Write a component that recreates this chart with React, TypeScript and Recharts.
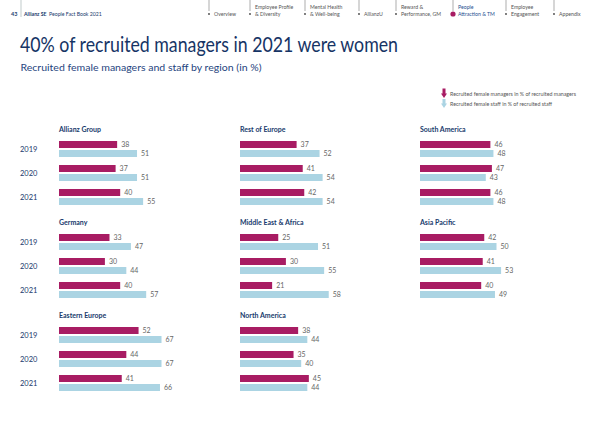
import { Bar, BarChart, LabelList, XAxis, YAxis } from "recharts";

const YEARS = ["2019", "2020", "2021"];

const REGIONS = [
  "Allianz Group",
  "Rest of Europe",
  "South America",
  "Germany",
  "Middle East & Africa",
  "Asia Pacific",
  "Eastern Europe",
  "North America",
];

// female managers recruited, % of recruited managers (2019, 2020, 2021)
const MANAGERS = [
  [38, 37, 40],
  [37, 41, 42],
  [46, 47, 46],
  [33, 30, 40],
  [25, 30, 21],
  [42, 41, 40],
  [52, 44, 41],
  [38, 35, 45],
];

// female staff recruited, % of recruited staff
const STAFF = [
  [51, 51, 55],
  [52, 54, 54],
  [48, 43, 48],
  [47, 44, 57],
  [51, 55, 58],
  [50, 53, 49],
  [67, 67, 66],
  [44, 40, 44],
];

const NAV = [
  { top: "", bottom: "Overview" },
  { top: "Employee Profile", bottom: "& Diversity" },
  { top: "Mental Health", bottom: "& Well-being" },
  { top: "", bottom: "AllianzU" },
  { top: "Reward &", bottom: "Performance, GM" },
  { top: "People", bottom: "Attraction & TM" },
  { top: "Employee", bottom: "Engagement" },
  { top: "", bottom: "Appendix" },
];
const NAV_X = [209, 250, 305, 359, 396, 453, 506, 554];
const NAV_ACTIVE = 5;

const MAGENTA = "#a81c63";
const LIGHT_BLUE = "#abd4e3";
const NAVY = "#183a6c";
const FONT = "Lato, 'Open Sans', sans-serif";

const COL_X = [59, 240, 420];
const ROW_Y = [137, 230, 323];
const PX_PER_UNIT = 1.53;
const PLOT_W = Math.round(100 * PX_PER_UNIT);
const LABEL_ROOM = 20;
const Y_AXIS_W = 59;

function YearTick({ y, payload }: { y?: number; payload?: { value: string } }) {
  return (
    <text x={20} y={y} dy={2.6} fontSize={7.5} fill={NAVY} fontFamily={FONT}>
      {payload?.value}
    </text>
  );
}

function RegionPanel({ index }: { index: number }) {
  const col = index % 3;
  const row = Math.floor(index / 3);
  const withYears = col === 0;
  const data = YEARS.map((year, i) => ({
    year,
    managers: MANAGERS[index][i],
    staff: STAFF[index][i],
  }));
  const width = PLOT_W + LABEL_ROOM + (withYears ? Y_AXIS_W : 0);
  const left = withYears ? 0 : COL_X[col];

  return (
    <div style={{ position: "absolute", left, top: ROW_Y[row] }}>
      <BarChart
        width={width}
        height={72}
        data={data}
        layout="vertical"
        margin={{ top: 0, right: LABEL_ROOM, left: 0, bottom: 0 }}
        barSize={7}
        barGap={2}
      >
        <XAxis type="number" domain={[0, 100]} hide />
        <YAxis
          type="category"
          dataKey="year"
          hide={!withYears}
          width={Y_AXIS_W}
          axisLine={false}
          tickLine={false}
          tick={<YearTick />}
        />
        <Bar dataKey="managers" fill={MAGENTA} isAnimationActive={false}>
          <LabelList
            dataKey="managers"
            position="right"
            offset={4}
            fill="#666"
            fontSize={7}
            fontFamily={FONT}
          />
        </Bar>
        <Bar dataKey="staff" fill={LIGHT_BLUE} isAnimationActive={false}>
          <LabelList
            dataKey="staff"
            position="right"
            offset={4}
            fill="#666"
            fontSize={7}
            fontFamily={FONT}
          />
        </Bar>
      </BarChart>
    </div>
  );
}

function PageFrame() {
  return (
    <svg
      width={600}
      height={424}
      style={{ position: "absolute", left: 0, top: 0 }}
      fontFamily={FONT}
    >
      {/* header strip */}
      <text x={11} y={15.5} fontSize={5.5} fontWeight={700} fill={NAVY}>
        43
      </text>
      <line x1={21} y1={0} x2={21} y2={17} stroke="#9aa" strokeWidth={0.6} />
      <text x={24} y={15.5} fontSize={5.2} fontWeight={700} fill={NAVY}>
        Allianz SE
      </text>
      <text x={49} y={15.5} fontSize={5.2} fill={NAVY}>
        People Fact Book 2021
      </text>
      {NAV.map((item, i) => {
        const x = NAV_X[i];
        const active = i === NAV_ACTIVE;
        const color = active ? "#1e4f8f" : "#555";
        return (
          <g key={item.bottom}>
            <line x1={x} y1={0} x2={x} y2={11} stroke="#777" strokeWidth={0.6} />
            <circle
              cx={x}
              cy={14}
              r={active ? 2.6 : 0.9}
              fill={active ? MAGENTA : "#444"}
            />
            {item.top && (
              <text x={x + 5} y={9} fontSize={5.2} fill={color}>
                {item.top}
              </text>
            )}
            <text x={x + 5} y={15.8} fontSize={5.2} fill={color}>
              {item.bottom}
            </text>
          </g>
        );
      })}

      {/* headline */}
      <text
        x={20}
        y={52.3}
        fontSize={21}
        fill="#163465"
        textLength={378}
        lengthAdjust="spacingAndGlyphs"
      >
        40% of recruited managers in 2021 were women
      </text>
      <text
        x={20.5}
        y={70.7}
        fontSize={9}
        fill="#1f4580"
        textLength={241}
        lengthAdjust="spacingAndGlyphs"
      >
        Recruited female managers and staff by region (in %)
      </text>

      {/* legend */}
      <path d="M442.5 88.5h3v5h1.5l-3 4.5l-3-4.5h1.5z" fill={MAGENTA} />
      <path d="M442.5 99h3v4.5h1.5l-3 4.5l-3-4.5h1.5z" fill={LIGHT_BLUE} />
      <text x={450} y={95.5} fontSize={5.3} fill="#555">
        Recruited female managers in % of recruited managers
      </text>
      <text x={450} y={105.5} fontSize={5.3} fill="#555">
        Recruited female staff in % of recruited staff
      </text>

      {/* panel titles */}
      {REGIONS.map((name, i) => (
        <text
          key={name}
          x={COL_X[i % 3]}
          y={ROW_Y[Math.floor(i / 3)] - 5.3}
          fontSize={7}
          fontWeight={700}
          fill={NAVY}
        >
          {name}
        </text>
      ))}
    </svg>
  );
}

export default function App() {
  return (
    <div
      style={{
        position: "absolute",
        left: 0,
        top: 0,
        width: 600,
        height: 424,
        background: "#fff",
        overflow: "hidden",
        fontFamily: FONT,
      }}
    >
      <PageFrame />
      {REGIONS.map((name, i) => (
        <RegionPanel key={name} index={i} />
      ))}
    </div>
  );
}
